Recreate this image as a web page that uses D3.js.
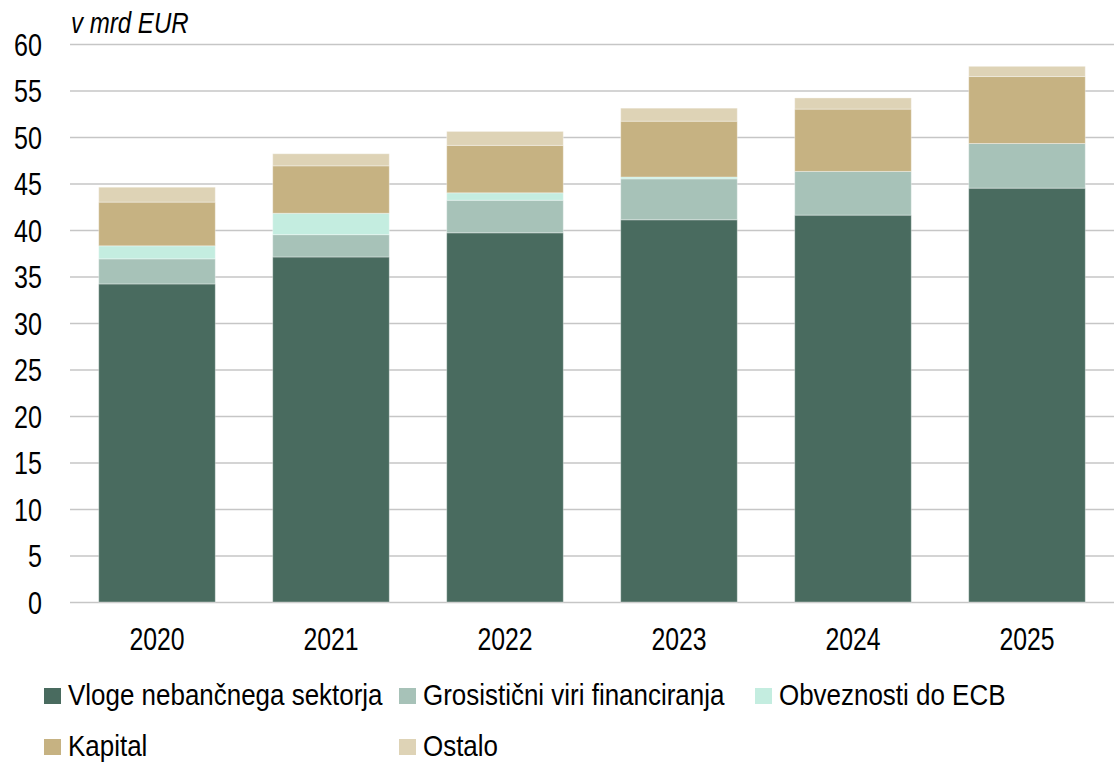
<!DOCTYPE html>
<html>
<head>
<meta charset="utf-8">
<script src="https://cdn.jsdelivr.net/npm/d3@7"></script>
<style>
  body { margin: 0; background: #fff; }
  svg text { font-family: "Liberation Sans Narrow", "Arial Narrow", "Liberation Sans", Arial, sans-serif; fill: #000; }
</style>
</head>
<body>
<div id="chart"></div>
<script>
'use strict';

// Data: v mrd EUR
var years = ['2020', '2021', '2022', '2023', '2024', '2025']
var vloge = [34.2, 37.1, 39.7, 41.1, 41.6, 44.5]
var grosisticni = [2.7, 2.4, 3.5, 4.4, 4.7, 4.8]
var ecb = [1.4, 2.3, 0.8, 0.2, 0, 0]
var kapital = [4.7, 5.1, 5.1, 6.0, 6.7, 7.2]
var ostalo = [1.6, 1.3, 1.5, 1.4, 1.2, 1.1]
var yTicks = [0, 5, 10, 15, 20, 25, 30, 35, 40, 45, 50, 55, 60]

var seriesKeys = ['vloge', 'grosisticni', 'ecb', 'kapital', 'ostalo']
var seriesNames = {
  vloge: 'Vloge nebančnega sektorja',
  grosisticni: 'Grosistični viri financiranja',
  ecb: 'Obveznosti do ECB',
  kapital: 'Kapital',
  ostalo: 'Ostalo'
}
var colorize = function(key){
  if (key=='vloge') return '#496b5f'
  if (key=='grosisticni') return '#a7c2b8'
  if (key=='ecb') return '#c4ede0'
  if (key=='kapital') return '#c6b282'
  if (key=='ostalo') return '#ded3b6'
  return '#ff699b'
}

var rows = years.map(function(y, i){
  return {year: y, vloge: vloge[i], grosisticni: grosisticni[i], ecb: ecb[i], kapital: kapital[i], ostalo: ostalo[i]}
})

// No narrow font installed: squeeze glyphs horizontally instead
var narrow = function(sel, f){
  sel.each(function(){
    var len = this.getComputedTextLength()
    d3.select(this)
      .attr('textLength', len * f)
      .attr('lengthAdjust', 'spacingAndGlyphs')
  })
}

// Setup: dimensions
var W = 1114, H = 763
var margin = {top: 44, right: 0, bottom: 161, left: 70}
var width = W - margin.left - margin.right
var height = H - margin.top - margin.bottom

var x = d3.scaleBand()
  .domain(years)
  .range([0, width])
  .paddingInner(0.33)
  .paddingOuter(0.165)

var y = d3.scaleLinear()
  .domain([0, 60])
  .range([height, 0])

var svg = d3.select('#chart').append('svg')
  .attr('width', W)
  .attr('height', H)

var g = svg.append('g')
  .attr('transform', 'translate(' + margin.left + ',' + margin.top + ')')

// Gridlines + y labels
var yAxis = d3.axisLeft(y)
  .tickValues(yTicks)
  .tickSize(-width)
  .tickPadding(28)
  .tickFormat(function(d){ return d })

var ya = g.append('g')
  .attr('class', 'axis axis--y')
  .call(yAxis)
ya.select('.domain').remove()
ya.selectAll('line')
  .attr('stroke', '#c6c6c6')
  .attr('stroke-width', 1.5)
ya.selectAll('text')
  .style('font-size', '31px')
  .attr('dy', '0.36em')
  .call(narrow, 0.81)

// Stacked bars
var stack = d3.stack().keys(seriesKeys)

var layer = g.selectAll('.layer')
  .data(stack(rows))
  .enter().append('g')
    .attr('class', 'layer')
    .style('fill', function(d){ return colorize(d.key) })

layer.selectAll('rect')
  .data(function(d){ return d.filter(function(p){ return p[1] - p[0] > 0 }) })
  .enter().append('rect')
    .attr('x', function(d){ return x(d.data.year) })
    .attr('width', x.bandwidth())
    .attr('y', function(d){ return y(d[1]) })
    .attr('height', function(d){ return y(d[0]) - y(d[1]) })
    .attr('stroke', '#ffffff')
    .attr('stroke-opacity', 0.35)
    .attr('stroke-width', 1)

// x labels
var xAxis = d3.axisBottom(x).tickSize(0).tickPadding(26)
var xa = g.append('g')
  .attr('class', 'axis axis--x')
  .attr('transform', 'translate(0,' + height + ')')
  .call(xAxis)
xa.select('.domain').remove()
xa.selectAll('text')
  .style('font-size', '31px')
  .call(narrow, 0.8)

// Unit label
svg.append('text')
  .attr('x', 71)
  .attr('y', 33)
  .style('font-size', '29px')
  .style('font-style', 'italic')
  .text('v mrd EUR')
  .call(narrow, 0.83)

// Legend
var legendPos = [
  {key: 'vloge', x: 44, y: 688},
  {key: 'grosisticni', x: 399, y: 688},
  {key: 'ecb', x: 755, y: 688},
  {key: 'kapital', x: 44, y: 739},
  {key: 'ostalo', x: 399, y: 739}
]
var legend = svg.selectAll('.legend')
  .data(legendPos)
  .enter().append('g')
    .attr('class', 'legend')
    .attr('transform', function(d){ return 'translate(' + d.x + ',' + d.y + ')' })

legend.append('rect')
  .attr('width', 17)
  .attr('height', 16)
  .style('fill', function(d){ return colorize(d.key) })

legend.append('text')
  .attr('x', 24)
  .attr('y', 17)
  .style('font-size', '30px')
  .text(function(d){ return seriesNames[d.key] })
  .call(narrow, 0.865)
</script>
</body>
</html>
